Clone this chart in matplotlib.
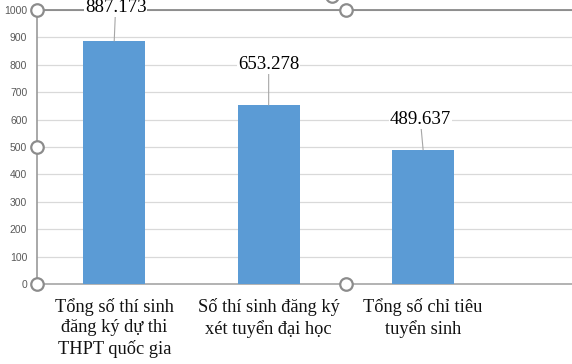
import matplotlib
matplotlib.use("Agg")
import matplotlib.pyplot as plt

categories = ["Tổng số thí sinh\nđăng ký dự thi\nTHPT quốc gia",
              "Số thí sinh đăng ký\nxét tuyển đại học",
              "Tổng số chỉ tiêu\ntuyển sinh"]
values = [887.173, 653.278, 489.637]
value_labels = ["887.173", "653.278", "489.637"]
yticks = [0, 100, 200, 300, 400, 500, 600, 700, 800, 900, 1000]

W, H = 572, 364
fig = plt.figure(figsize=(W / 100, H / 100), dpi=100)
fig.patch.set_facecolor("white")
ax = fig.add_axes([37 / W, (H - 284) / H, (W - 37) / W, (284 - 10) / H])

x = list(range(len(categories)))
ax.bar(x, values, width=0.4, color="#5B9BD5", zorder=3)

ax.set_xlim(-0.5, 2.964)
ax.set_ylim(0, 1000)
ax.set_yticks(yticks)
ax.set_yticklabels([str(t) for t in yticks], fontfamily="Liberation Sans",
                   fontsize=7.5, color="#595959")
ax.tick_params(axis="y", length=0, pad=7)
ax.set_xticks(x)
ax.set_xticklabels(categories, fontfamily="Liberation Serif", fontsize=13.2,
                   color="#111111")
for lbl in ax.get_xticklabels():
    lbl.set_linespacing(1.27)
    lbl.set_multialignment("center")
ax.tick_params(axis="x", length=0, pad=10)

ax.grid(axis="y", color="#D9D9D9", linewidth=0.9, zorder=0)
ax.set_axisbelow(True)
ax.spines["right"].set_visible(False)
ax.spines["top"].set_color("#808080")
ax.spines["top"].set_linewidth(1.2)
ax.spines["left"].set_color("#9A9A9A")
ax.spines["left"].set_linewidth(1.2)
ax.spines["bottom"].set_color("#A6A6A6")
ax.spines["bottom"].set_linewidth(1.2)

offsets = [(1, 24), (0, 29), (-2, 22)]
for xi, v, lab, off in zip(x, values, value_labels, offsets):
    ax.annotate(lab, xy=(xi, v), xytext=off, textcoords="offset points",
                ha="center", va="center", fontfamily="Liberation Serif",
                fontsize=13.6, color="black", annotation_clip=False,
                bbox=dict(boxstyle="square,pad=0.05", fc="white", ec="none"),
                arrowprops=dict(arrowstyle="-", color="#A6A6A6", lw=0.8,
                                shrinkA=0, shrinkB=0),
                zorder=5)

# selection handles
handles = [(37, 10), (37, 147), (37, 284), (346, 10), (346, 284), (332, -4)]
for hx, hy in handles:
    ax.plot([hx / W], [1 - hy / H], marker="o", markersize=9,
            markerfacecolor="white", markeredgecolor="#8C8C8C",
            markeredgewidth=1.6, transform=fig.transFigure, clip_on=False,
            zorder=10)

fig.savefig("out.png", dpi=100)
